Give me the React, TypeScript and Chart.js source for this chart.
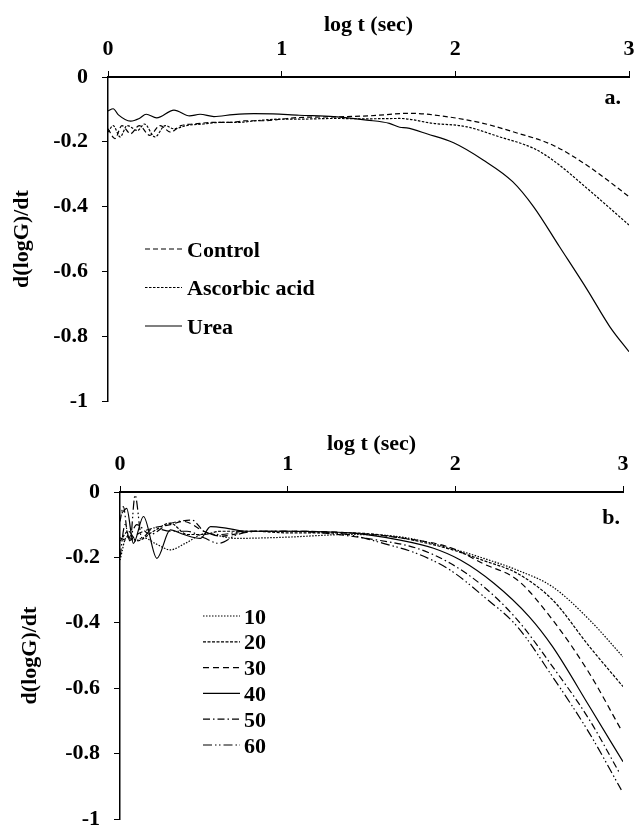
import React, { useEffect, useRef } from "react";
import { Chart, registerables } from "chart.js";
Chart.register(...registerables);

// Panel a
const controlX = [0, 0.04, 0.08, 0.13, 0.18, 0.24, 0.3, 0.36, 0.42, 0.5, 0.6, 0.7, 0.8, 0.9, 1.0, 1.1, 1.3, 1.5, 1.74, 1.97, 2.16, 2.35, 2.56, 2.77, 3.0];
const controlY = [-0.16, -0.19, -0.15, -0.175, -0.15, -0.18, -0.15, -0.17, -0.15, -0.145, -0.14, -0.14, -0.135, -0.135, -0.13, -0.125, -0.123, -0.12, -0.112, -0.124, -0.143, -0.172, -0.21, -0.277, -0.369];
const ascorbicX = [0, 0.03, 0.07, 0.11, 0.17, 0.21, 0.27, 0.33, 0.38, 0.45, 0.55, 0.65, 0.75, 0.85, 1.0, 1.1, 1.3, 1.5, 1.68, 1.87, 2.06, 2.25, 2.45, 2.56, 2.77, 3.0];
const ascorbicY = [-0.17, -0.15, -0.185, -0.15, -0.165, -0.145, -0.185, -0.15, -0.16, -0.15, -0.145, -0.14, -0.14, -0.135, -0.13, -0.13, -0.128, -0.129, -0.128, -0.143, -0.153, -0.184, -0.22, -0.256, -0.349, -0.457];
const ureaX = [0, 0.03, 0.06, 0.13, 0.18, 0.22, 0.28, 0.38, 0.47, 0.53, 0.61, 0.72, 0.84, 0.95, 1.1, 1.3, 1.49, 1.62, 1.68, 1.72, 1.84, 1.99, 2.16, 2.33, 2.45, 2.6, 2.76, 2.89, 3.0];
const ureaY = [-0.105, -0.098, -0.117, -0.136, -0.128, -0.115, -0.126, -0.102, -0.12, -0.115, -0.122, -0.116, -0.113, -0.114, -0.118, -0.122, -0.133, -0.143, -0.155, -0.157, -0.176, -0.203, -0.256, -0.323, -0.4, -0.524, -0.657, -0.771, -0.848];

// Panel b
const s10X = [0, 0.04, 0.09, 0.14, 0.22, 0.3, 0.39, 0.51, 0.6, 0.68, 0.88, 1.0, 1.37, 1.67, 1.97, 2.17, 2.37, 2.58, 2.8, 3.0];
const s10Y = [-0.208, -0.137, -0.15, -0.14, -0.16, -0.177, -0.157, -0.127, -0.135, -0.142, -0.14, -0.138, -0.13, -0.137, -0.172, -0.203, -0.239, -0.29, -0.391, -0.504];
const s20X = [0, 0.05, 0.1, 0.2, 0.3, 0.4, 0.5, 0.6, 0.8, 1.0, 1.37, 1.67, 1.97, 2.17, 2.37, 2.58, 2.8, 3.0];
const s20Y = [-0.15, -0.12, -0.15, -0.12, -0.095, -0.13, -0.13, -0.12, -0.12, -0.125, -0.125, -0.14, -0.175, -0.21, -0.249, -0.33, -0.473, -0.595];
const s30X = [0, 0.05, 0.1, 0.2, 0.3, 0.38, 0.5, 0.6, 0.8, 1.0, 1.37, 1.67, 1.97, 2.17, 2.37, 2.58, 2.8, 2.99];
const s30Y = [-0.14, -0.15, -0.13, -0.11, -0.1, -0.09, -0.12, -0.135, -0.12, -0.12, -0.125, -0.14, -0.17, -0.22, -0.269, -0.391, -0.555, -0.728];
const s40X = [0.01, 0.04, 0.08, 0.14, 0.22, 0.3, 0.38, 0.48, 0.54, 0.64, 0.75, 0.88, 1.0, 1.37, 1.67, 1.87, 2.03, 2.23, 2.44, 2.58, 2.8, 3.0];
const s40Y = [-0.065, -0.05, -0.157, -0.075, -0.203, -0.116, -0.13, -0.142, -0.106, -0.111, -0.12, -0.12, -0.12, -0.125, -0.147, -0.172, -0.208, -0.279, -0.381, -0.473, -0.656, -0.825];
const s50X = [0, 0.02, 0.05, 0.1, 0.18, 0.28, 0.35, 0.43, 0.5, 0.6, 0.75, 0.88, 1.0, 1.2, 1.47, 1.77, 1.97, 2.17, 2.37, 2.58, 2.8, 2.98];
const s50Y = [-0.09, -0.045, -0.14, -0.1, -0.13, -0.1, -0.09, -0.086, -0.12, -0.13, -0.12, -0.12, -0.12, -0.125, -0.142, -0.172, -0.218, -0.29, -0.391, -0.534, -0.697, -0.86];
const s60X = [0, 0.03, 0.06, 0.09, 0.13, 0.2, 0.3, 0.4, 0.5, 0.59, 0.7, 0.85, 1.0, 1.2, 1.37, 1.57, 1.77, 1.97, 2.17, 2.37, 2.58, 2.8, 2.99];
const s60Y = [-0.2, -0.1, -0.15, -0.01, -0.14, -0.11, -0.12, -0.12, -0.14, -0.157, -0.13, -0.12, -0.12, -0.122, -0.131, -0.157, -0.188, -0.239, -0.32, -0.412, -0.565, -0.738, -0.911];

const labelsA = ["Control", "Ascorbic acid", "Urea"];
const labelsB = ["10", "20", "30", "40", "50", "60"];
const xTicks = [0, 1, 2, 3];
const xTitle = "log t (sec)";
const yTitle = "d(logG)/dt";

const FONT = "'Liberation Serif', 'Times New Roman', serif";

const pts = (xs: number[], ys: number[]) => xs.map((x, i) => ({ x, y: ys[i] }));

type Panel = {
  series: { label: string; data: { x: number; y: number }[]; dash: number[] }[];
  tag: string;
  yAxisWidth: number;
  xAxisHeight: number;
  padRight: number;
  padBottom: number;
  xTitlePad: number;
  yTitlePad: number;
  legend: { x1: number; x2: number; tx: number; y0: number; dy: number };
  tagPos: { x: number; y: number };
};

function makeChart(canvas: HTMLCanvasElement, p: Panel) {
  const overlay = {
    id: "overlay",
    afterDraw(chart: any) {
      const ctx = chart.ctx;
      ctx.save();
      ctx.fillStyle = "#000";
      ctx.strokeStyle = "#000";
      ctx.font = `bold 22px ${FONT}`;
      ctx.textBaseline = "middle";
      p.series.forEach((s, i) => {
        const y = p.legend.y0 + i * p.legend.dy;
        ctx.lineWidth = 1.2;
        ctx.setLineDash(s.dash);
        ctx.beginPath();
        ctx.moveTo(p.legend.x1, y);
        ctx.lineTo(p.legend.x2, y);
        ctx.stroke();
        ctx.setLineDash([]);
        ctx.textAlign = "left";
        ctx.fillText(s.label, p.legend.tx, y + 2);
      });
      ctx.textAlign = "right";
      ctx.fillText(p.tag, p.tagPos.x, p.tagPos.y);
      ctx.restore();
    },
  };
  return new Chart(canvas, {
    type: "line",
    data: {
      datasets: p.series.map((s) => ({
        label: s.label,
        data: s.data,
        borderColor: "#000",
        borderWidth: 1.2,
        borderDash: s.dash,
        pointRadius: 0,
        fill: false,
        cubicInterpolationMode: "monotone" as const,
      })),
    },
    options: {
      responsive: false,
      animation: false,
      layout: { padding: { left: 0, top: 0, right: p.padRight, bottom: p.padBottom } },
      plugins: { legend: { display: false }, tooltip: { enabled: false } },
      scales: {
        x: {
          type: "linear",
          position: "top",
          min: 0,
          max: 3,
          afterBuildTicks: (s: any) => {
            s.ticks = xTicks.map((v) => ({ value: v }));
          },
          afterFit: (s: any) => {
            s.height = p.xAxisHeight;
            s.paddingLeft = 0;
            s.paddingRight = 0;
          },
          ticks: {
            color: "#000",
            font: { family: FONT, size: 22, weight: "bold" },
            padding: 8,
            maxRotation: 0,
          },
          grid: { drawOnChartArea: false, drawTicks: true, tickLength: 6, color: "#000", lineWidth: 1 },
          border: { display: true, color: "#000", width: 2 },
          title: {
            display: true,
            text: xTitle,
            color: "#000",
            font: { family: FONT, size: 22, weight: "bold" },
            padding: { top: p.xTitlePad, bottom: 0 },
          },
        },
        y: {
          type: "linear",
          min: -1,
          max: 0,
          ticks: {
            stepSize: 0.2,
            color: "#000",
            font: { family: FONT, size: 22, weight: "bold" },
            padding: 14,
            callback: (v: any) => String(Number(Number(v).toFixed(1))),
          },
          afterFit: (s: any) => {
            s.width = p.yAxisWidth;
            s.paddingTop = 0;
            s.paddingBottom = 0;
          },
          grid: { drawOnChartArea: false, drawTicks: true, tickLength: 6, color: "#000", lineWidth: 1 },
          border: { display: true, color: "#000", width: 1.5 },
          title: {
            display: true,
            text: yTitle,
            color: "#000",
            font: { family: FONT, size: 22, weight: "bold" },
            padding: { top: p.yTitlePad, bottom: 0 },
          },
        },
      },
    },
    plugins: [overlay],
  } as any);
}

const panelA: Panel = {
  series: [
    { label: labelsA[0], data: pts(controlX, controlY), dash: [5, 3] },
    { label: labelsA[1], data: pts(ascorbicX, ascorbicY), dash: [2.5, 1.5] },
    { label: labelsA[2], data: pts(ureaX, ureaY), dash: [] },
  ],
  tag: "a.",
  yAxisWidth: 108,
  xAxisHeight: 77,
  padRight: 6,
  padBottom: 13,
  xTitlePad: 12,
  yTitlePad: 9,
  legend: { x1: 145, x2: 182, tx: 187, y0: 249, dy: 38.5 },
  tagPos: { x: 621, y: 98 },
};

const panelB: Panel = {
  series: [
    { label: labelsB[0], data: pts(s10X, s10Y), dash: [1.5, 1.5] },
    { label: labelsB[1], data: pts(s20X, s20Y), dash: [3, 1.5] },
    { label: labelsB[2], data: pts(s30X, s30Y), dash: [6, 4] },
    { label: labelsB[3], data: pts(s40X, s40Y), dash: [] },
    { label: labelsB[4], data: pts(s50X, s50Y), dash: [7, 3, 1.5, 3] },
    { label: labelsB[5], data: pts(s60X, s60Y), dash: [9, 3, 1.5, 2.5, 1.5, 3] },
  ],
  tag: "b.",
  yAxisWidth: 120,
  xAxisHeight: 78,
  padRight: 12,
  padBottom: 9,
  xTitlePad: 17,
  yTitlePad: 17,
  legend: { x1: 203, x2: 240, tx: 244, y0: 202, dy: 25.8 },
  tagPos: { x: 620, y: 104 },
};

export default function App() {
  const refA = useRef<HTMLCanvasElement>(null);
  const refB = useRef<HTMLCanvasElement>(null);
  useEffect(() => {
    document.body.style.margin = "0";
    const a = makeChart(refA.current!, panelA);
    const b = makeChart(refB.current!, panelB);
    return () => {
      a.destroy();
      b.destroy();
    };
  }, []);
  return (
    <div style={{ width: 635, height: 828, background: "#fff" }}>
      <canvas ref={refA} width={635} height={414} style={{ display: "block" }} />
      <canvas ref={refB} width={635} height={414} style={{ display: "block" }} />
    </div>
  );
}
